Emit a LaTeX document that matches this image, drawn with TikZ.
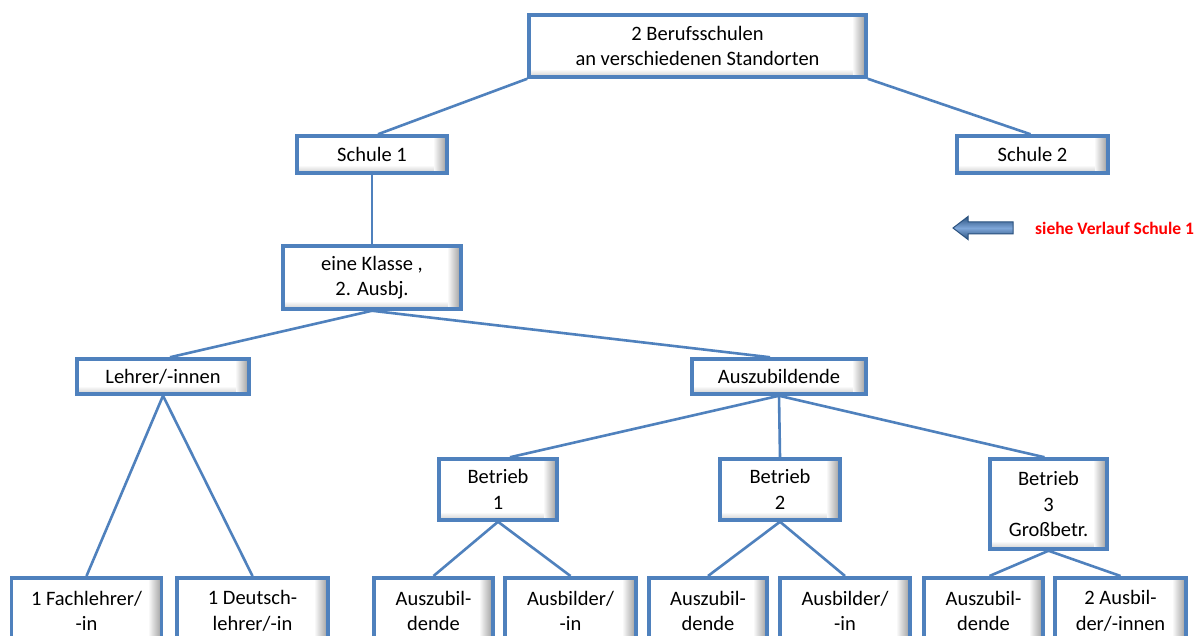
\documentclass[tikz,border=0pt]{standalone}
\usepackage{fontspec}
\setmainfont{Carlito}
\usetikzlibrary{calc}
\definecolor{boxblue}{HTML}{4F81BD}
\definecolor{linkblue}{HTML}{4F81BD}
\definecolor{arrowdark}{HTML}{2B527F}
\definecolor{arrowlight}{HTML}{7EA6D8}
\definecolor{notered}{HTML}{FF0000}
\newcommand{\boxfont}{\fontsize{20.5}{25.5}\selectfont}
\newcommand{\notefont}{\fontsize{17.5}{20}\selectfont\bfseries}
\tikzset{
  box/.style={draw=boxblue, line width=3.5pt, fill=white, align=center,
    inner sep=0pt, font=\boxfont, text=black,
    path picture={
      \foreach \i in {1,...,12}{
        \fill[black, opacity=0.028*\i]
          ([xshift=\i pt-14pt]path picture bounding box.north east)
          rectangle ([xshift=\i pt-13pt]path picture bounding box.south east);
      }
      \foreach \i in {1,...,6}{
        \fill[black, opacity=0.025*\i]
          ([yshift=8pt-\i pt]path picture bounding box.south west)
          rectangle ([yshift=7pt-\i pt, xshift=-13pt]path picture bounding box.south east);
      }
    }},
  link/.style={draw=linkblue, line width=2.6pt},
  notetext/.style={font=\notefont, text=notered, inner sep=0pt}
}
\begin{document}
\begin{tikzpicture}[x=1pt,y=-1pt]
\useasboundingbox (0,0) rectangle (1201,636);
\clip (0,0) rectangle (1201,636);
\fill[white] (0,0) rectangle (1201,636);

% level 0
\node[box, minimum width=337pt, minimum height=62pt] (top) at (697.5,46) {2 Berufsschulen\\an verschiedenen Standorten};
% level 1
\node[box, minimum width=150pt, minimum height=37pt] (s1) at (372,154.5) {Schule 1};
\node[box, minimum width=151pt, minimum height=37pt] (s2) at (1032.5,154.5) {Schule 2};
% level 2
\node[box, minimum width=178pt, minimum height=63pt] (klasse) at (372,277.5) {eine Klasse ,\\ 2. Ausbj.};
% level 3
\node[box, minimum width=172pt, minimum height=35pt] (lehrer) at (163,376.5) {Lehrer/-innen};
\node[box, minimum width=174pt, minimum height=35pt] (azubi) at (779,376.5) {Auszubildende};
% level 4
\node[box, minimum width=118pt, minimum height=61pt] (b1) at (498,489.5) {Betrieb\\1};
\node[box, minimum width=120pt, minimum height=61pt] (b2) at (780,489.5) {Betrieb\\2};
\node[box, minimum width=117pt, minimum height=90pt] (b3) at (1048.5,504) {Betrieb\\3\\Großbetr.};
% level 5
\node[box, anchor=north, minimum width=150pt, minimum height=66pt] (fach) at (86.5,576) {1 Fachlehrer/\\-in};
\node[box, anchor=north, minimum width=151pt, minimum height=66pt] (deutsch) at (252.5,576) {1 Deutsch-\\lehrer/-in};
\node[box, anchor=north, minimum width=119pt, minimum height=66pt] (az1) at (433.5,576) {Auszubil-\\dende};
\node[box, anchor=north, minimum width=131pt, minimum height=66pt] (ab1) at (570.5,576) {Ausbilder/\\-in};
\node[box, anchor=north, minimum width=118pt, minimum height=66pt] (az2) at (708,576) {Auszubil-\\dende};
\node[box, anchor=north, minimum width=130pt, minimum height=66pt] (ab2) at (845,576) {Ausbilder/\\-in};
\node[box, anchor=north, minimum width=119pt, minimum height=66pt] (az3) at (983.5,576) {Auszubil-\\dende};
\node[box, anchor=north, minimum width=131pt, minimum height=66pt] (ab3) at (1120.5,576) {2 Ausbil-\\der/-innen};

% connectors
\draw[link] (top.south west) -- ([xshift=6pt]s1.north);
\draw[link] (top.south east) -- ([xshift=-2pt]s2.north);
\draw[link] (s1.south) -- (klasse.north);
\draw[link] (klasse.south) -- ([xshift=7pt]lehrer.north);
\draw[link] (klasse.south) -- ([xshift=-9pt]azubi.north);
\draw[link] (lehrer.south) -- (fach.north);
\draw[link] (lehrer.south) -- (deutsch.north);
\draw[link] (azubi.south) -- ([xshift=12pt]b1.north);
\draw[link] (azubi.south) -- (b2.north);
\draw[link] (azubi.south) -- ([xshift=-4pt]b3.north);
\draw[link] (b1.south) -- (az1.north);
\draw[link] (b1.south) -- (ab1.north);
\draw[link] (b2.south) -- (az2.north);
\draw[link] (b2.south) -- (ab2.north);
\draw[link] (b3.south) -- ([xshift=6pt]az3.north);
\draw[link] (b3.south) -- (ab3.north);

% block arrow and note
\node[notetext, anchor=west] (note) at (1035,228) {siehe Verlauf Schule 1};
\coordinate (tip) at (953,228);
\shade[top color=arrowdark, bottom color=arrowdark, middle color=arrowlight, draw=arrowdark, line width=1pt]
  (tip) -- (968,216.5) -- (968,222) -- (1013,222) -- (1013,234) -- (968,234) -- (968,239.5) -- cycle;
\end{tikzpicture}
\end{document}
